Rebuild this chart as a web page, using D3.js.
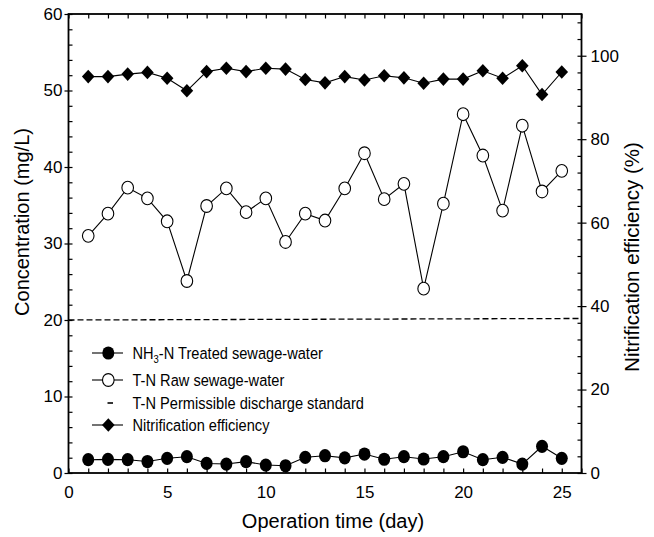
<!DOCTYPE html>
<html>
<head>
<meta charset="utf-8">
<script src="https://cdn.jsdelivr.net/npm/d3@7"></script>
<style>
  html, body { margin: 0; padding: 0; background: #fff; }
  svg { display: block; font-family: "Liberation Sans", Arial, sans-serif; }
</style>
</head>
<body>
<svg id="chart" width="654" height="537"></svg>
<script>
// ---- data ----
const days = [1,2,3,4,5,6,7,8,9,10,11,12,13,14,15,16,17,18,19,20,21,22,23,24,25];
const nh3Treated = [1.74,1.78,1.74,1.5,1.92,2.13,1.25,1.17,1.48,1.04,0.95,2.05,2.26,1.98,2.48,1.8,2.13,1.83,2.13,2.78,1.74,2.05,1.17,3.49,1.92];
const tnRaw = [31.0,33.9,37.3,35.9,32.9,25.1,34.9,37.2,34.1,35.9,30.2,33.9,33.0,37.2,41.8,35.8,37.8,24.1,35.2,46.9,41.5,34.3,45.4,36.8,39.5];
const nitrification = [95.0,95.0,95.6,96.0,94.6,91.6,96.2,97.0,96.2,97.0,96.8,94.3,93.5,95.0,94.2,95.2,94.7,93.4,94.4,94.4,96.4,94.6,97.6,90.7,96.1];
const standardX = [0, 26];
const standardY = [20, 20.2];
const xTickLabels = [0,5,10,15,20,25];
const leftTickLabels = [0,10,20,30,40,50,60];
const rightTickLabels = [0,20,40,60,80,100];
const legendLabels = ["NH3-N Treated sewage-water","T-N Raw sewage-water","T-N Permissible discharge standard","Nitrification efficiency"];

// ---- layout ----
const svg = d3.select("#chart");
const L = 68.5, R = 581.5, T = 14, B = 473;
const x = d3.scaleLinear().domain([0, 26]).range([L, R]);
const yL = d3.scaleLinear().domain([0, 60]).range([B, T]);
const yR = d3.scaleLinear().domain([0, 110]).range([B, T]);

const ink = "#000";
const FONT = "Liberation Sans, Arial, sans-serif";

// frame
svg.append("rect").attr("x", L).attr("y", T).attr("width", R - L).attr("height", B - T)
  .attr("fill", "none").attr("stroke", ink).attr("stroke-width", 1.8);

// x axis ticks (bottom, inward) and top (inward)
const xMinor = d3.range(0, 27, 1);
const gb = svg.append("g").attr("transform", `translate(0,${B})`)
  .call(d3.axisBottom(x).tickValues(xMinor).tickSizeInner(-4.5).tickSizeOuter(0).tickFormat(""));
gb.select(".domain").remove();
const gbl = svg.append("g").attr("transform", `translate(0,${B})`)
  .call(d3.axisBottom(x).tickValues(xTickLabels).tickSize(0).tickPadding(13).tickFormat(d3.format("d")));
gbl.select(".domain").remove();
gbl.selectAll("text").attr("font-size", 17).attr("font-family", FONT).attr("fill", ink);

const gt = svg.append("g").attr("transform", `translate(0,${T})`)
  .call(d3.axisTop(x).tickValues(xMinor).tickSizeInner(-4.5).tickSizeOuter(0).tickFormat(""));
gt.select(".domain").remove();

// left axis: minor inward every 2, major outward every 10
const gl = svg.append("g").attr("transform", `translate(${L},0)`)
  .call(d3.axisLeft(yL).tickValues(d3.range(0, 61, 2)).tickSizeInner(-4).tickSizeOuter(0).tickFormat(""));
gl.select(".domain").remove();
const gll = svg.append("g").attr("transform", `translate(${L},0)`)
  .call(d3.axisLeft(yL).tickValues(leftTickLabels).tickSizeInner(4).tickSizeOuter(0).tickPadding(2).tickFormat(d3.format("d")));
gll.select(".domain").remove();
gll.selectAll("text").attr("font-size", 17).attr("font-family", FONT).attr("fill", ink);

// right axis: minor inward every 4, major outward every 20
const gr = svg.append("g").attr("transform", `translate(${R},0)`)
  .call(d3.axisRight(yR).tickValues(d3.range(0, 110, 4)).tickSizeInner(-4).tickSizeOuter(0).tickFormat(""));
gr.select(".domain").remove();
const grl = svg.append("g").attr("transform", `translate(${R},0)`)
  .call(d3.axisRight(yR).tickValues(rightTickLabels).tickSizeInner(5).tickSizeOuter(0).tickPadding(4).tickFormat(d3.format("d")));
grl.select(".domain").remove();
grl.selectAll("text").attr("font-size", 17).attr("font-family", FONT).attr("fill", ink);

svg.selectAll(".tick line").attr("stroke", ink).attr("stroke-width", 1.2);

// axis titles
svg.append("text").attr("x", 333).attr("y", 528).attr("text-anchor", "middle")
  .attr("font-size", 20).attr("fill", ink).text("Operation time (day)");
svg.append("text").attr("transform", "translate(29,222) rotate(-90)").attr("text-anchor", "middle")
  .attr("font-size", 20).attr("fill", ink).text("Concentration (mg/L)");
svg.append("text").attr("transform", "translate(639,257) rotate(-90)").attr("text-anchor", "middle")
  .attr("font-size", 20.5).attr("fill", ink).text("Nitrification efficiency (%)");

// standard dashed line
svg.append("path")
  .datum(standardX.map((d, i) => [d, standardY[i]]))
  .attr("d", d3.line().x(d => x(d[0])).y(d => yL(d[1])))
  .attr("fill", "none").attr("stroke", ink).attr("stroke-width", 1.3).attr("stroke-dasharray", "6,3");

// series lines
function drawLine(vals, yScale) {
  svg.append("path")
    .datum(days.map((d, i) => [d, vals[i]]))
    .attr("d", d3.line().x(d => x(d[0])).y(d => yScale(d[1])))
    .attr("fill", "none").attr("stroke", ink).attr("stroke-width", 1.1);
}
drawLine(nitrification, yR);
drawLine(tnRaw, yL);
drawLine(nh3Treated, yL);

const diamond = (cx, cy, r) => `M${cx},${cy - r * 1.08}L${cx + r},${cy}L${cx},${cy + r * 1.08}L${cx - r},${cy}Z`;

svg.append("g").selectAll("path").data(days).join("path")
  .attr("d", (d, i) => diamond(x(d), yR(nitrification[i]), 6.3))
  .attr("fill", ink);
svg.append("g").selectAll("ellipse").data(days).join("ellipse")
  .attr("cx", d => x(d)).attr("cy", (d, i) => yL(tnRaw[i]))
  .attr("rx", 5.8).attr("ry", 6.4)
  .attr("fill", "#fff").attr("stroke", ink).attr("stroke-width", 1.1);
svg.append("g").selectAll("ellipse").data(days).join("ellipse")
  .attr("cx", d => x(d)).attr("cy", (d, i) => yL(nh3Treated[i]))
  .attr("rx", 6).attr("ry", 6.6)
  .attr("fill", ink);

// legend
const legY = [353, 380, 403, 425];
const lx1 = 92, lx2 = 123, lm = 108.3, tx = 132.5;
const lg = svg.append("g");
[0, 1, 3].forEach(i => {
  lg.append("line").attr("x1", lx1).attr("x2", lx2).attr("y1", legY[i]).attr("y2", legY[i])
    .attr("stroke", ink).attr("stroke-width", 1.1);
});
lg.append("ellipse").attr("cx", lm).attr("cy", legY[0]).attr("rx", 6).attr("ry", 6.6).attr("fill", ink);
lg.append("ellipse").attr("cx", lm).attr("cy", legY[1]).attr("rx", 5.8).attr("ry", 6.4)
  .attr("fill", "#fff").attr("stroke", ink).attr("stroke-width", 1.1);
lg.append("line").attr("x1", 107.5).attr("x2", 113).attr("y1", legY[2]).attr("y2", legY[2])
  .attr("stroke", ink).attr("stroke-width", 1.6);
lg.append("path").attr("d", diamond(lm, legY[3], 6.3)).attr("fill", ink);

legendLabels.forEach((lab, i) => {
  const t = lg.append("text").attr("transform", `translate(${tx},${legY[i]}) scale(0.86,1)`)
    .attr("dy", "0.36em").attr("font-size", 17).attr("fill", ink);
  if (i === 0) {
    t.append("tspan").text("NH");
    t.append("tspan").attr("font-size", 11).attr("dy", 4).text("3");
    t.append("tspan").attr("dy", -4).text("-N Treated sewage-water");
  } else {
    t.text(lab);
  }
});
</script>
</body>
</html>
